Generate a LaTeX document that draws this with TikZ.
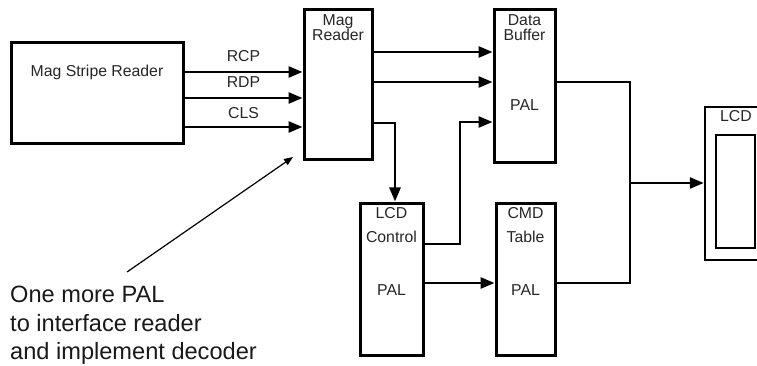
\documentclass[tikz,border=0pt]{standalone}
\usepackage{fontspec}
\setmainfont{Liberation Sans}
\usetikzlibrary{arrows.meta,positioning}

\begin{document}
\begin{tikzpicture}[x=1pt,y=-1pt,>={Triangle[length=14pt,width=11pt]},
    block/.style={draw,line width=3pt,inner sep=0pt},
    tag/.style={inner sep=0pt,align=center,text=black!85,
      font=\fontsize{15.8}{15}\selectfont},
    wire/.style={->,line width=2.6pt},
    link/.style={line width=2.6pt}]
    \useasboundingbox (0,0) rectangle (757,366);
    \clip (0,0) rectangle (757,366);
    % blocks
    \node[block,minimum width=172pt,minimum height=101pt] (msr) at (97,93.5) {};
    \node[block,minimum width=68pt,minimum height=150pt] (mr) at (338,85) {};
    \node[block,minimum width=61pt,minimum height=153pt] (db) at (524.5,86.5) {};
    \node[block,minimum width=63pt,minimum height=152pt] (lc) at (391.5,279) {};
    \node[block,minimum width=59pt,minimum height=152pt] (ct) at (525.5,279) {};
    \node[block,line width=2.4pt,minimum width=66pt,minimum height=153pt] (lcd) at (738,183.5) {};
    \node[draw,line width=2pt,minimum width=39pt,minimum height=113pt] (screen) at (735.5,191.5) {};
    % block texts
    \node[tag,below=23pt of msr.north] {Mag Stripe Reader};
    \node[tag,below=5.5pt of mr.north] {Mag\\Reader};
    \node[tag,below=5.5pt of db.north] {Data\\Buffer};
    \node[tag,below=91pt of db.north] {PAL};
    \node[tag,below=5.5pt of lc.north] {LCD\\[9pt]Control};
    \node[tag,below=83pt of lc.north] {PAL};
    \node[tag,below=5.5pt of ct.north] {CMD\\[9pt]Table};
    \node[tag,below=83pt of ct.north] {PAL};
    \node[tag,below=4pt of lcd.north,xshift=-2pt] {LCD};
    % signal rows
    \coordinate (rcp) at (0,72);
    \coordinate (rdp) at (0,98);
    \coordinate (cls) at (0,127);
    \coordinate (q1) at (0,52);
    \coordinate (q2) at (0,82);
    \coordinate (turn) at (395,123);
    \coordinate (bend) at (460,122);
    \coordinate (u1) at (0,244);
    \coordinate (r5) at (0,283);
    \coordinate (join) at (630,183);
    \draw[wire] (msr.east |- rcp) -- (mr.west |- rcp) node[tag,midway,above=9pt] {RCP};
    \draw[wire] (msr.east |- rdp) -- (mr.west |- rdp) node[tag,midway,above=9pt] {RDP};
    \draw[wire] (msr.east |- cls) -- (mr.west |- cls) node[tag,midway,above=7pt] {CLS};
    \draw[wire] (mr.east |- q1) -- (db.west |- q1);
    \draw[wire] (mr.east |- q2) -- (db.west |- q2);
    \draw[wire] (mr.east |- turn) -| (turn |- lc.north);
    \draw[wire] (lc.east |- u1) -| (bend) -- (db.west |- bend);
    \draw[wire] (lc.east |- r5) -- (ct.west |- r5);
    \draw[link] (db.east |- q2) -| (join) |- (ct.east |- r5);
    \draw[wire] (join) -- (lcd.west |- join);
    % note on the decoder
    \node[anchor=north west,inner sep=0pt,align=left,text=black!90,
      font=\fontsize{23.6}{28.5}\selectfont] (note) at (10,286)
      {One more PAL\\to interface reader\\and implement decoder};
    \coordinate (tail) at (127,272);
    \coordinate (tip) at (293,157);
    \draw[-{Triangle[length=9pt,width=7pt]},line width=1.2pt] (tail) -- (tip);
\end{tikzpicture}
\end{document}
